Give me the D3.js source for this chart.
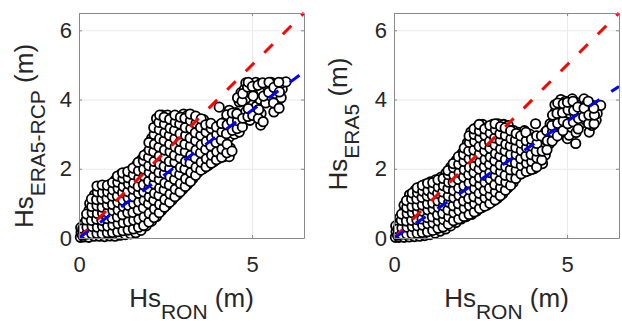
<!DOCTYPE html>
<html>
<head>
<meta charset="utf-8">
<script src="https://cdn.jsdelivr.net/npm/d3@7"></script>
<style>
  body { margin: 0; background: #fff; }
  svg { display: block; }
  text { font-family: "Liberation Sans", Arial, Helvetica, sans-serif; }
</style>
</head>
<body>
<svg id="fig" width="622" height="321"></svg>
<script>
// axis setup
const axisMax = 6.5
const xTicks = [0, 5]
const yTicks = [0, 2, 4, 6]

// Hs_RON vs Hs_ERA5-RCP
const rcpPts = [
  [0.04,0.02],[0.06,0.16],[0.05,0.3],
  [0.14,0.03],[0.17,0.2],[0.15,0.42],
  [0.28,0.02],[0.31,0.2],[0.27,0.4],[0.32,0.6],[0.29,0.8],[0.31,1.0],
  [0.44,0.05],[0.47,0.25],[0.43,0.45],[0.46,0.65],[0.44,0.85],[0.47,1.05],[0.45,1.25],
  [0.59,0.05],[0.62,0.22],[0.58,0.4],[0.61,0.6],[0.63,0.8],[0.59,1.0],[0.61,1.2],[0.6,1.42],
  [0.74,0.04],[0.77,0.25],[0.73,0.45],[0.76,0.65],[0.74,0.85],[0.77,1.05],[0.73,1.25],[0.76,1.48],
  [0.89,0.06],[0.92,0.25],[0.88,0.45],[0.91,0.65],[0.9,0.82],[0.93,1.0],[0.88,1.2],[0.91,1.4],[0.9,1.55],
  [1.04,0.05],[1.07,0.28],[1.03,0.5],[1.06,0.7],[1.04,0.9],[1.07,1.1],[1.03,1.3],[1.06,1.5],[1.05,1.68],
  [1.19,0.08],[1.22,0.3],[1.18,0.52],[1.21,0.72],[1.2,0.92],[1.23,1.12],[1.18,1.32],[1.21,1.52],[1.19,1.72],[1.22,1.85],
  [1.34,0.1],[1.37,0.35],[1.33,0.58],[1.36,0.8],[1.35,1.0],[1.37,1.2],[1.33,1.4],[1.36,1.6],[1.35,1.8],
  [1.49,0.12],[1.52,0.38],[1.48,0.62],[1.51,0.85],[1.5,1.05],[1.52,1.25],[1.48,1.45],[1.51,1.65],[1.5,1.88],
  [1.64,0.15],[1.67,0.4],[1.63,0.65],[1.66,0.9],[1.65,1.1],[1.67,1.32],[1.63,1.52],[1.66,1.72],[1.64,1.92],[1.67,2.12],
  [1.79,0.22],[1.82,0.48],[1.78,0.72],[1.81,0.95],[1.8,1.18],[1.82,1.4],[1.78,1.62],[1.81,1.85],[1.79,2.05],[1.82,2.28],
  [1.94,0.35],[1.97,0.6],[1.93,0.85],[1.96,1.08],[1.95,1.3],[1.97,1.52],[1.93,1.75],[1.96,1.98],[1.94,2.2],[1.97,2.45],
  [2.09,0.48],[2.12,0.72],[2.08,0.95],[2.11,1.18],[2.1,1.42],[2.12,1.65],[2.08,1.88],[2.11,2.1],[2.09,2.35],[2.12,2.6],[2.1,2.88],
  [2.24,0.62],[2.27,0.88],[2.23,1.12],[2.26,1.35],[2.25,1.58],[2.27,1.8],[2.23,2.02],[2.26,2.25],[2.24,2.5],[2.27,2.75],[2.23,3.0],[2.26,3.25],[2.24,3.45],
  [2.39,0.8],[2.42,1.05],[2.38,1.3],[2.41,1.52],[2.4,1.75],[2.42,1.98],[2.38,2.2],[2.41,2.45],[2.39,2.7],[2.42,2.95],[2.38,3.2],[2.41,3.42],[2.4,3.55],
  [2.54,0.95],[2.57,1.2],[2.53,1.45],[2.56,1.7],[2.55,1.92],[2.57,2.15],[2.53,2.4],[2.56,2.62],[2.54,2.85],[2.57,3.1],[2.53,3.35],[2.56,3.55],
  [2.69,1.1],[2.72,1.35],[2.68,1.6],[2.71,1.85],[2.7,2.1],[2.72,2.32],[2.68,2.55],[2.71,2.8],[2.69,3.02],[2.72,3.25],[2.7,3.5],
  [2.84,1.25],[2.87,1.5],[2.83,1.75],[2.86,2.0],[2.85,2.25],[2.87,2.5],[2.83,2.72],[2.86,2.95],[2.84,3.2],[2.87,3.45],
  [2.99,1.4],[3.02,1.65],[2.98,1.9],[3.01,2.12],[3.0,2.38],[3.02,2.62],[2.98,2.85],[3.01,3.1],[2.99,3.35],[3.02,3.58],
  [3.14,1.55],[3.17,1.8],[3.13,2.05],[3.16,2.3],[3.15,2.55],[3.17,2.8],[3.13,3.05],[3.16,3.3],[3.14,3.55],
  [3.29,1.72],[3.32,1.98],[3.28,2.22],[3.31,2.48],[3.3,2.72],[3.32,2.98],[3.28,3.22],[3.31,3.48],
  [3.44,1.9],[3.47,2.15],[3.43,2.4],[3.46,2.65],[3.45,2.9],[3.47,3.15],[3.43,3.4],
  [3.59,2.0],[3.62,2.25],[3.58,2.5],[3.61,2.75],[3.6,3.0],[3.62,3.25],[3.6,3.42],
  [3.74,2.1],[3.77,2.35],[3.73,2.6],[3.76,2.85],[3.75,3.1],[3.77,3.3],
  [3.89,2.2],[3.92,2.45],[3.88,2.7],[3.91,2.95],[3.9,3.2],
  [4.04,2.3],[4.07,2.55],[4.03,2.8],[4.06,3.05],[4.05,3.25],[4.05,3.78],
  [4.19,2.35],[4.22,2.6],[4.18,2.85],[4.21,3.1],[4.2,3.35],
  [4.34,2.35],[4.37,2.6],[4.33,2.9],[4.36,3.2],[4.35,3.45],[4.34,3.69],
  [4.49,3.0],[4.52,3.25],[4.48,3.5],[4.53,3.62],
  [4.63,3.06],[4.66,3.3],[4.62,3.55],[4.63,3.93],[4.68,4.2],
  [4.79,3.4],[4.82,3.65],[4.82,4.03],[4.78,4.3],[4.82,4.48],
  [4.94,3.4],[4.97,3.58],[4.93,4.2],[4.96,4.45],
  [5.09,3.55],[5.12,3.8],[5.08,4.3],[5.11,4.5],
  [5.25,3.26],[5.26,3.6],[5.23,4.0],[5.27,4.25],[5.25,4.47],
  [5.39,3.9],[5.42,4.15],[5.4,4.42],
  [5.54,4.1],[5.57,4.3],[5.55,4.5],
  [5.63,3.64],[5.72,3.88],[5.72,4.03],[5.69,4.17],[5.7,4.45],
  [5.84,4.05],[5.87,4.3],[5.85,4.48],
  [5.98,4.51],
  // in-between columns
  [0.1,0.08],[0.11,0.27],
  [0.22,0.11],[0.23,0.31],[0.21,0.52],[0.22,0.69],
  [0.37,0.12],[0.38,0.33],[0.36,0.51],[0.38,0.73],[0.37,0.91],[0.36,1.13],
  [0.52,0.13],[0.53,0.31],[0.51,0.54],[0.53,0.71],[0.52,0.93],[0.51,1.11],[0.53,1.33],[0.52,1.5],
  [0.67,0.12],[0.68,0.34],[0.66,0.51],[0.68,0.72],[0.67,0.89],[0.66,1.12],[0.68,1.31],[0.67,1.53],
  [0.82,0.15],[0.83,0.34],[0.81,0.56],[0.83,0.74],[0.82,0.96],[0.81,1.14],[0.83,1.33],[0.82,1.52],
  [0.97,0.16],[0.98,0.37],[0.96,0.57],[0.98,0.79],[0.97,0.97],[0.96,1.21],[0.98,1.39],[0.97,1.6],
  [1.12,0.18],[1.13,0.41],[1.11,0.61],[1.13,0.81],[1.12,1.03],[1.11,1.21],[1.13,1.43],[1.12,1.61],[1.11,1.79],
  [1.27,0.21],[1.28,0.44],[1.26,0.67],[1.28,0.91],[1.27,1.09],[1.26,1.31],[1.28,1.49],[1.27,1.71],[1.26,1.88],
  [1.42,0.23],[1.43,0.47],[1.41,0.73],[1.43,0.94],[1.42,1.16],[1.41,1.34],[1.43,1.56],[1.42,1.74],[1.41,1.92],
  [1.57,0.26],[1.58,0.51],[1.56,0.74],[1.58,0.99],[1.57,1.19],[1.56,1.41],[1.58,1.59],[1.57,1.83],[1.56,2.02],
  [1.72,0.31],[1.73,0.54],[1.71,0.81],[1.73,1.04],[1.72,1.29],[1.71,1.49],[1.73,1.73],[1.72,1.94],[1.71,2.19],
  [1.87,0.36],[1.88,0.61],[1.86,0.87],[1.88,1.09],[1.87,1.33],[1.86,1.54],[1.88,1.79],[1.87,1.99],[1.86,2.23],[1.88,2.39],
  [2.02,0.46],[2.03,0.71],[2.01,0.99],[2.03,1.19],[2.02,1.43],[2.01,1.64],[2.03,1.89],[2.02,2.09],[2.01,2.33],[2.03,2.54],[2.02,2.76],
  [2.17,0.59],[2.18,0.84],[2.16,1.09],[2.18,1.29],[2.17,1.56],[2.16,1.77],[2.18,2.01],[2.17,2.21],[2.16,2.49],[2.18,2.71],[2.17,2.99],[2.16,3.19],
  [2.32,0.73],[2.33,0.97],[2.31,1.23],[2.33,1.44],[2.32,1.69],[2.31,1.89],[2.33,2.13],[2.32,2.37],[2.31,2.63],[2.33,2.87],[2.32,3.13],[2.31,3.34],[2.33,3.55],
  [2.47,0.89],[2.48,1.11],[2.46,1.39],[2.48,1.59],[2.47,1.86],[2.46,2.07],[2.48,2.31],[2.47,2.54],[2.46,2.81],[2.48,3.04],[2.47,3.29],[2.46,3.49],
  [2.62,1.03],[2.63,1.27],[2.61,1.53],[2.63,1.77],[2.62,2.01],[2.61,2.21],[2.63,2.49],[2.62,2.71],[2.61,2.96],[2.63,3.17],[2.62,3.43],
  [2.77,1.19],[2.78,1.41],[2.76,1.69],[2.78,1.91],[2.77,2.19],[2.76,2.39],[2.78,2.63],[2.77,2.87],[2.76,3.11],[2.78,3.34],[2.77,3.55],
  [2.92,1.33],[2.93,1.57],[2.91,1.83],[2.93,2.04],[2.92,2.31],[2.91,2.54],[2.93,2.79],[2.92,3.01],[2.91,3.29],[2.93,3.49],
  [3.07,1.49],[3.08,1.71],[3.06,1.99],[3.08,2.21],[3.07,2.49],[3.06,2.71],[3.08,2.96],[3.07,3.19],[3.06,3.46],
  [3.22,1.63],[3.23,1.89],[3.21,2.16],[3.23,2.39],[3.22,2.66],[3.21,2.89],[3.23,3.16],[3.22,3.39],[3.21,3.58],
  [3.37,1.81],[3.38,2.04],[3.36,2.31],[3.38,2.54],[3.37,2.81],[3.36,3.04],[3.38,3.31],[3.37,3.52],
  [3.52,1.96],[3.53,2.19],[3.51,2.46],[3.53,2.69],[3.52,2.96],[3.51,3.19],[3.53,3.44],
  [3.67,2.06],[3.68,2.29],[3.66,2.56],[3.68,2.79],[3.67,3.06],[3.66,3.27],
  [3.82,2.16],[3.83,2.39],[3.81,2.66],[3.83,2.89],[3.82,3.16],[3.81,3.31],
  [3.97,2.26],[3.98,2.49],[3.96,2.76],[3.98,2.99],[3.97,3.21],
  [4.12,2.33],[4.13,2.57],[4.11,2.83],[4.13,3.07],[4.12,3.31],
  [4.27,2.46],[4.28,2.71],[4.26,3.01],[4.28,3.27],[4.27,3.56],
  [4.42,2.51],[4.43,3.11],[4.41,3.37],[4.43,3.61],
  [4.57,3.16],[4.58,3.39],[4.56,3.59],[4.58,4.05],
  [4.72,3.21],[4.73,3.46],[4.71,3.95],[4.73,4.17],
  [4.88,3.51],[4.89,3.74],[4.87,4.36],[4.89,4.5],
  [5.02,3.54],[5.03,4.1],[5.01,4.38],
  [5.18,3.45],[5.19,3.71],[5.17,4.41],
  [5.32,3.36],[5.33,4.1],[5.31,4.48],
  [5.48,4.21],[5.49,4.5],
  [5.62,3.9],[5.63,4.35],
  [5.78,3.75],[5.79,4.22],[5.77,4.5]
]

// Hs_RON vs Hs_ERA5
const era5Pts = [
  [0.04,0.02],[0.06,0.18],[0.05,0.35],
  [0.14,0.02],[0.17,0.2],[0.15,0.4],[0.16,0.58],
  [0.29,0.02],[0.31,0.2],[0.28,0.4],[0.32,0.6],[0.3,0.78],[0.29,0.95],
  [0.44,0.03],[0.47,0.22],[0.43,0.42],[0.46,0.62],[0.44,0.82],[0.47,1.02],[0.45,1.25],
  [0.59,0.04],[0.62,0.22],[0.58,0.42],[0.61,0.62],[0.6,0.82],[0.62,1.02],[0.58,1.2],[0.61,1.38],
  [0.74,0.05],[0.77,0.25],[0.73,0.45],[0.76,0.65],[0.75,0.85],[0.77,1.05],[0.73,1.25],[0.76,1.48],
  [0.89,0.07],[0.92,0.27],[0.88,0.47],[0.91,0.67],[0.9,0.87],[0.92,1.07],[0.88,1.27],[0.91,1.42],[0.9,1.55],
  [1.04,0.1],[1.07,0.3],[1.03,0.5],[1.06,0.7],[1.05,0.9],[1.07,1.1],[1.03,1.3],[1.06,1.48],[1.05,1.62],
  [1.19,0.14],[1.22,0.34],[1.18,0.54],[1.21,0.74],[1.2,0.94],[1.22,1.14],[1.18,1.34],[1.21,1.52],[1.2,1.68],
  [1.34,0.2],[1.37,0.4],[1.33,0.6],[1.36,0.8],[1.35,1.0],[1.37,1.2],[1.33,1.4],[1.36,1.58],[1.35,1.75],
  [1.49,0.26],[1.52,0.46],[1.48,0.66],[1.51,0.86],[1.5,1.06],[1.52,1.26],[1.48,1.46],[1.51,1.66],[1.5,1.87],
  [1.64,0.35],[1.67,0.56],[1.63,0.77],[1.66,0.98],[1.65,1.2],[1.67,1.42],[1.63,1.63],[1.66,1.85],[1.64,2.05],
  [1.79,0.45],[1.82,0.66],[1.78,0.88],[1.81,1.1],[1.8,1.32],[1.82,1.55],[1.78,1.78],[1.81,2.0],[1.8,2.25],
  [1.94,0.55],[1.97,0.76],[1.93,0.98],[1.96,1.2],[1.95,1.42],[1.97,1.65],[1.93,1.88],[1.96,2.1],[1.94,2.3],[1.97,2.45],
  [2.09,0.62],[2.12,0.85],[2.08,1.08],[2.11,1.3],[2.1,1.52],[2.12,1.75],[2.08,1.98],[2.11,2.2],[2.09,2.45],[2.12,2.75],
  [2.24,0.68],[2.27,0.9],[2.23,1.12],[2.26,1.35],[2.25,1.58],[2.27,1.8],[2.23,2.02],[2.26,2.25],[2.24,2.48],[2.27,2.7],[2.23,2.92],[2.22,3.06],
  [2.39,0.78],[2.42,1.0],[2.38,1.22],[2.41,1.45],[2.4,1.68],[2.42,1.9],[2.38,2.12],[2.41,2.35],[2.39,2.58],[2.42,2.8],[2.38,3.0],[2.41,3.2],
  [2.54,0.88],[2.57,1.1],[2.53,1.32],[2.56,1.55],[2.55,1.78],[2.57,2.0],[2.53,2.22],[2.56,2.45],[2.54,2.68],[2.57,2.9],[2.53,3.1],[2.56,3.28],
  [2.69,0.95],[2.72,1.18],[2.68,1.4],[2.71,1.62],[2.7,1.85],[2.72,2.08],[2.68,2.3],[2.71,2.52],[2.69,2.75],[2.72,2.98],[2.7,3.2],
  [2.84,1.05],[2.87,1.28],[2.83,1.5],[2.86,1.72],[2.85,1.95],[2.87,2.18],[2.83,2.4],[2.86,2.62],[2.84,2.85],[2.87,3.08],[2.85,3.28],
  [2.99,1.15],[3.02,1.38],[2.98,1.6],[3.01,1.82],[3.0,2.05],[3.02,2.28],[2.98,2.5],[3.01,2.72],[2.99,2.95],[3.02,3.15],[3.0,3.3],
  [3.14,1.28],[3.17,1.5],[3.13,1.72],[3.16,1.95],[3.15,2.18],[3.17,2.4],[3.13,2.62],[3.16,2.85],[3.14,3.08],[3.17,3.28],
  [3.29,1.45],[3.32,1.68],[3.28,1.9],[3.31,2.12],[3.3,2.35],[3.32,2.58],[3.28,2.8],[3.31,3.02],[3.3,3.25],
  [3.44,1.6],[3.47,1.82],[3.43,2.05],[3.46,2.28],[3.45,2.5],[3.47,2.72],[3.43,2.92],[3.46,3.1],
  [3.59,1.82],[3.62,2.05],[3.58,2.28],[3.61,2.5],[3.6,2.72],[3.62,2.9],[3.6,3.05],
  [3.74,1.9],[3.77,2.12],[3.73,2.35],[3.76,2.58],[3.75,2.8],[3.77,3.1],
  [3.89,1.95],[3.92,2.18],[3.88,2.4],[3.91,2.62],[3.9,2.82],[3.92,3.0],
  [4.04,2.0],[4.07,2.22],[4.03,2.45],[4.06,2.68],[4.05,2.9],[4.09,3.3],
  [4.19,2.12],[4.22,2.35],[4.18,2.55],[4.21,2.75],[4.2,2.92],
  [4.29,2.15],[4.37,2.4],[4.33,2.62],[4.29,2.73],[4.36,2.85],[4.38,3.06],
  [4.49,2.72],[4.52,2.95],[4.48,3.15],[4.51,3.3],
  [4.64,2.9],[4.67,3.12],[4.62,3.45],[4.66,3.65],[4.65,3.85],
  [4.79,3.0],[4.82,3.25],[4.78,3.5],[4.81,3.72],[4.82,4.0],
  [4.94,3.15],[5.01,2.87],[4.93,3.55],[4.96,3.78],[4.95,3.95],
  [5.06,2.97],[5.12,3.2],[5.08,3.6],[5.11,3.82],[5.15,4.02],
  [5.25,2.73],[5.26,3.05],[5.23,3.55],[5.27,3.75],[5.25,3.92],
  [5.39,3.3],[5.42,3.6],[5.4,3.85],
  [5.54,3.4],[5.57,3.65],[5.49,4.02],[5.55,3.85],
  [5.64,3.06],[5.72,3.25],[5.73,3.45],[5.69,3.68],[5.7,3.85],
  [5.84,3.4],[5.87,3.6],[5.85,3.82],
  [5.97,3.83],
  // in-between columns
  [0.1,0.08],[0.11,0.26],
  [0.22,0.11],[0.23,0.29],[0.21,0.51],[0.22,0.69],
  [0.37,0.11],[0.38,0.31],[0.36,0.49],[0.38,0.71],[0.37,0.88],[0.36,1.08],
  [0.52,0.12],[0.53,0.33],[0.51,0.51],[0.53,0.73],[0.52,0.91],[0.51,1.13],[0.53,1.3],
  [0.67,0.14],[0.68,0.35],[0.66,0.53],[0.68,0.75],[0.67,0.93],[0.66,1.13],[0.68,1.31],[0.67,1.45],
  [0.82,0.16],[0.83,0.37],[0.81,0.55],[0.83,0.77],[0.82,0.95],[0.81,1.17],[0.83,1.35],[0.82,1.52],
  [0.97,0.18],[0.98,0.41],[0.96,0.59],[0.98,0.81],[0.97,0.99],[0.96,1.21],[0.98,1.37],[0.97,1.58],
  [1.12,0.22],[1.13,0.43],[1.11,0.61],[1.13,0.83],[1.12,1.01],[1.11,1.23],[1.13,1.41],[1.12,1.6],
  [1.27,0.28],[1.28,0.49],[1.26,0.67],[1.28,0.89],[1.27,1.07],[1.26,1.29],[1.28,1.47],[1.27,1.68],
  [1.42,0.32],[1.43,0.53],[1.41,0.71],[1.43,0.93],[1.42,1.11],[1.41,1.33],[1.43,1.51],[1.42,1.72],
  [1.57,0.4],[1.58,0.61],[1.56,0.81],[1.58,1.03],[1.57,1.21],[1.56,1.43],[1.58,1.61],[1.57,1.83],[1.56,1.95],
  [1.72,0.5],[1.73,0.73],[1.71,0.93],[1.73,1.16],[1.72,1.37],[1.71,1.61],[1.73,1.81],[1.72,2.03],[1.71,2.15],
  [1.87,0.55],[1.88,0.79],[1.86,0.99],[1.88,1.23],[1.87,1.44],[1.86,1.69],[1.88,1.89],[1.87,2.13],[1.86,2.35],
  [2.02,0.62],[2.03,0.86],[2.01,1.07],[2.03,1.31],[2.02,1.51],[2.01,1.76],[2.03,1.97],[2.02,2.21],[2.01,2.41],[2.03,2.6],
  [2.17,0.68],[2.18,0.93],[2.16,1.14],[2.18,1.39],[2.17,1.59],[2.16,1.83],[2.18,2.04],[2.17,2.29],[2.16,2.51],[2.18,2.76],[2.17,2.95],
  [2.32,0.75],[2.33,0.99],[2.31,1.19],[2.33,1.43],[2.32,1.64],[2.31,1.89],[2.33,2.09],[2.32,2.33],[2.31,2.54],[2.33,2.79],[2.32,2.99],[2.31,3.15],
  [2.47,0.85],[2.48,1.09],[2.46,1.29],[2.48,1.53],[2.47,1.74],[2.46,1.99],[2.48,2.19],[2.47,2.43],[2.46,2.64],[2.48,2.89],[2.47,3.09],[2.46,3.28],
  [2.62,0.92],[2.63,1.16],[2.61,1.37],[2.63,1.61],[2.62,1.81],[2.61,2.06],[2.63,2.27],[2.62,2.51],[2.61,2.71],[2.63,2.96],[2.62,3.15],
  [2.77,1.0],[2.78,1.23],[2.76,1.44],[2.78,1.69],[2.77,1.89],[2.76,2.13],[2.78,2.34],[2.77,2.59],[2.76,2.79],[2.78,3.03],[2.77,3.25],
  [2.92,1.1],[2.93,1.33],[2.91,1.54],[2.93,1.79],[2.92,1.99],[2.91,2.23],[2.93,2.44],[2.92,2.69],[2.91,2.89],[2.93,3.13],[2.92,3.3],
  [3.07,1.22],[3.08,1.46],[3.06,1.67],[3.08,1.91],[3.07,2.11],[3.06,2.36],[3.08,2.57],[3.07,2.81],[3.06,3.01],[3.08,3.22],
  [3.22,1.38],[3.23,1.61],[3.21,1.81],[3.23,2.06],[3.22,2.27],[3.21,2.51],[3.23,2.71],[3.22,2.96],[3.21,3.18],
  [3.37,1.52],[3.38,1.76],[3.36,1.97],[3.38,2.21],[3.37,2.41],[3.36,2.66],[3.38,2.87],[3.37,3.1],
  [3.52,1.72],[3.53,1.96],[3.51,2.17],[3.53,2.41],[3.52,2.61],[3.51,2.83],[3.53,3.02],
  [3.67,1.85],[3.68,2.09],[3.66,2.29],[3.68,2.53],[3.67,2.74],[3.66,2.95],
  [3.82,1.92],[3.83,2.16],[3.81,2.37],[3.83,2.61],[3.82,2.81],[3.81,3.05],
  [3.97,1.98],[3.98,2.21],[3.96,2.41],[3.98,2.66],[3.97,2.85],
  [4.12,2.05],[4.13,2.31],[4.11,2.51],[4.13,2.73],[4.12,2.95],
  [4.27,2.25],[4.28,2.51],[4.26,2.95],
  [4.42,2.55],[4.43,2.81],[4.41,3.1],
  [4.57,2.8],[4.58,3.06],[4.56,3.25],[4.58,3.55],
  [4.72,2.95],[4.73,3.31],[4.71,3.6],[4.73,3.9],
  [4.88,3.1],[4.89,3.38],[4.87,3.62],[4.89,3.88],
  [5.02,3.3],[5.03,3.7],[5.01,3.92],
  [5.18,3.35],[5.19,3.68],[5.17,3.95],
  [5.32,3.15],[5.33,3.45],[5.31,3.78],
  [5.48,3.5],[5.49,3.75],
  [5.62,3.3],[5.63,3.55],[5.61,3.95],
  [5.78,3.3],[5.79,3.55],[5.77,3.75]
]

// 1:1 line and fitted lines (end points)
const oneToOne = [[0, 0], [6.5, 6.5]]
const fitRcp = [[0, 0], [6.5, 4.8]]
const fitEra5 = [[0, 0], [6.5, 4.38]]

const panels = [
  { left: 79, pts: rcpPts, fit: fitRcp, sub: "ERA5-RCP", labX: 33, labY: 136 },
  { left: 394, pts: era5Pts, fit: fitEra5, sub: "ERA5", labX: 347, labY: 124 }
]

const svg = d3.select("#fig")
const plotW = 225, plotH = 225, plotTop = 13
const boxColor = "#8a8a8a", textColor = "#262626"
const fmt = d3.format("d")

function styleAxis(g) {
  g.attr("font-size", 22).attr("font-family", null)
  g.selectAll("text").attr("fill", textColor)
  g.selectAll("line, path").attr("stroke", boxColor)
}

panels.forEach(p => {
  const x = d3.scaleLinear().domain([0, axisMax]).range([p.left, p.left + plotW])
  const y = d3.scaleLinear().domain([0, axisMax]).range([plotTop + plotH, plotTop])
  const g = svg.append("g")

  // grid
  g.append("g")
    .attr("transform", `translate(0,${plotTop + plotH})`)
    .call(d3.axisBottom(x).tickValues(xTicks).tickSize(-plotH).tickFormat(""))
    .call(a => a.select(".domain").remove())
    .selectAll("line").attr("stroke", "#e9e9e9")
  g.append("g")
    .attr("transform", `translate(${p.left},0)`)
    .call(d3.axisLeft(y).tickValues(yTicks).tickSize(-plotW).tickFormat(""))
    .call(a => a.select(".domain").remove())
    .selectAll("line").attr("stroke", "#e9e9e9")

  // scatter
  g.append("g").selectAll("circle")
    .data(p.pts)
    .join("circle")
    .attr("cx", d => x(d[0]))
    .attr("cy", d => y(d[1]))
    .attr("r", 4.7)
    .attr("fill", "#fff")
    .attr("stroke", "#000")
    .attr("stroke-width", 1.8)

  const line = d3.line().x(d => x(d[0])).y(d => y(d[1]))
  g.append("path").attr("d", line(oneToOne))
    .attr("fill", "none").attr("stroke", "#ff0000")
    .attr("stroke-width", 3).attr("stroke-dasharray", "12,14.2")
  g.append("path").attr("d", line(p.fit))
    .attr("fill", "none").attr("stroke", "#0000ff")
    .attr("stroke-width", 3).attr("stroke-dasharray", "12,14.2")

  // axes / box with inward ticks
  g.append("g")
    .attr("transform", `translate(0,${plotTop + plotH})`)
    .call(d3.axisBottom(x).tickValues(xTicks).tickFormat(fmt).tickSizeInner(-3).tickSizeOuter(0).tickPadding(18))
    .call(styleAxis)
  g.append("g")
    .attr("transform", `translate(0,${plotTop})`)
    .call(d3.axisTop(x).tickValues(xTicks).tickSizeInner(-3).tickSizeOuter(0).tickFormat(""))
    .call(styleAxis)
  g.append("g")
    .attr("transform", `translate(${p.left},0)`)
    .call(d3.axisLeft(y).tickValues(yTicks).tickFormat(fmt).tickSizeInner(-3).tickSizeOuter(0).tickPadding(7))
    .call(styleAxis)
  g.append("g")
    .attr("transform", `translate(${p.left + plotW},0)`)
    .call(d3.axisRight(y).tickValues(yTicks).tickSizeInner(-3).tickSizeOuter(0).tickFormat(""))
    .call(styleAxis)

  // x label
  const xl = g.append("text")
    .attr("x", p.left + plotW / 2).attr("y", 307)
    .attr("text-anchor", "middle").attr("fill", textColor).attr("font-size", 26)
  xl.append("tspan").text("Hs")
  xl.append("tspan").attr("dy", 12).attr("font-size", 21).text("RON")
  xl.append("tspan").attr("dy", -12).text(" (m)")

  // y label
  const yl = g.append("text")
    .attr("transform", `translate(${p.labX},${p.labY}) rotate(-90)`)
    .attr("text-anchor", "middle").attr("fill", textColor).attr("font-size", 26)
  yl.append("tspan").text("Hs")
  yl.append("tspan").attr("dy", 12).attr("font-size", 21).text(p.sub)
  yl.append("tspan").attr("dy", -12).text(" (m)")
})
</script>
</body>
</html>
